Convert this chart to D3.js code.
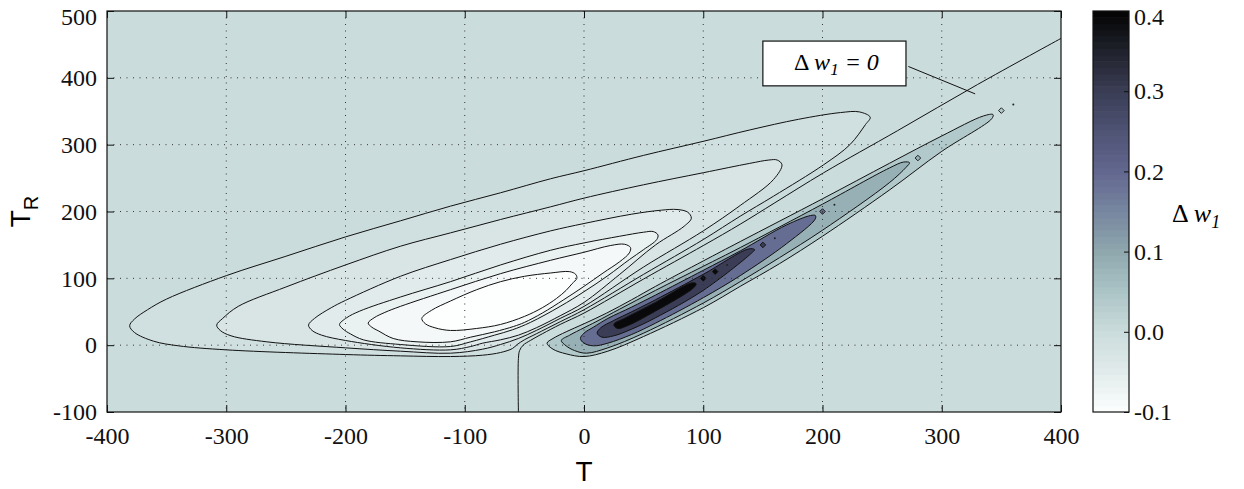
<!DOCTYPE html>
<html>
<head>
<meta charset="utf-8">
<script src="https://cdn.jsdelivr.net/npm/d3@7"></script>
<style>
body { margin: 0; background: #fff; }
</style>
</head>
<body>
<script>
// ticks
const xTicks = [-400, -300, -200, -100, 0, 100, 200, 300, 400];
const yTicks = [-100, 0, 100, 200, 300, 400, 500];
const cbTicks = [-0.1, 0, 0.1, 0.2, 0.3, 0.4];

// colour map of the colorbar (value -> colour)
const cmapValues = [-0.1, -0.05, 0, 0.05, 0.1, 0.15, 0.2, 0.25, 0.3, 0.35, 0.4];
const cmapColors = ["#fdfefe", "#e2ebeb", "#cbdcdc", "#abc4c6", "#8fa8ae", "#7786a0",
                    "#62678f", "#4f5374", "#3a3d55", "#20222c", "#030303"];

// contour levels of dw1, and their outlines as [T, T_R] points
const negLevels = [-0.01, -0.03, -0.05, -0.065, -0.085, -0.1];
const posLevels = [0.04, 0.085, 0.19, 0.3, 0.39];

const negA = [[-377,19],[-381,29],[-377,39],[-366,53],[-350,69],[-300,104],[-250,133],[-200,162],
  [-154,186],[-112,208],[-70,228],[-28,249],[0,261],[50,284],[100,305],[139,322],[180,338],
  [215,348],[231,349],[240,341],[236,330],[223,300],[201,270],[159,223],[131,193],[100,158],
  [50,106],[0,53],[-20,35],[-40,17],[-50,8],[-56,1],[-60,-5],[-70,-11],[-85,-15],[-112,-17],
  [-154,-16],[-200,-14],[-300,-7],[-340,-1],[-361,6]];
const negB = [[-305,22],[-308,30],[-303,40],[-290,58],[-250,87],[-200,120],[-154,148],[-112,168],
  [-70,188],[-28,207],[0,220],[50,240],[100,258],[139,272],[155,277],[162,277],[166,270],
  [159,248],[131,209],[100,171],[50,117],[0,58],[-20,40],[-40,22],[-55,10],[-70,1],[-85,-6],
  [-112,-12],[-154,-9],[-200,-4],[-266,5],[-296,14]];
const negC = [[-228,22],[-231,30],[-226,40],[-212,56],[-200,67],[-154,103],[-112,128],[-70,151],
  [-28,171],[0,182],[40,196],[65,202],[78,203],[87,199],[90,190],[84,178],[60,150],[30,106],
  [0,64],[-20,44],[-40,26],[-55,15],[-70,8],[-85,3],[-95,-2],[-112,-7],[-154,-4],[-200,7],
  [-220,15]];
const negD = [[-202,24],[-205,31],[-199,41],[-188,51],[-154,72],[-112,95],[-70,120],[-28,142],
  [0,153],[30,163],[50,169],[58,170],[62,165],[61,158],[50,143],[38,128],[20,104],[0,80],
  [-20,58],[-45,34],[-60,23],[-75,15],[-95,5],[-112,-2],[-154,1],[-185,8],[-196,17]];
const negE = [[-178,27],[-181,33],[-176,41],[-167,49],[-154,58],[-112,83],[-70,107],[-28,127],
  [0,139],[22,149],[34,151],[39,146],[38,138],[30,125],[16,108],[0,88],[-17,68],[-35,48],
  [-50,34],[-59,28],[-75,20],[-95,12],[-112,5],[-140,5],[-160,10],[-172,21]];
const negF = [[-136,40],[-128,52],[-112,66],[-90,83],[-70,95],[-50,103],[-28,108],[-12,110],
  [-7,106],[-6,100],[-10,92],[-15,82],[-23,70],[-35,56],[-50,43],[-70,31],[-90,25],[-112,22],
  [-125,26],[-133,32]];

const posP1 = [[-31,3],[-26,10],[-15,20],[0,32],[19,48],[40,68],[60,88],[100,126],[131,155],
  [200,219],[256,272],[300,313],[335,343],[343,345],[342,339],[300,290],[256,232],[200,163],
  [164,122],[131,88],[100,56],[50,13],[20,-9],[0,-17],[-15,-13],[-26,-6]];
const posP2 = [[-19,7],[-12,15],[0,26],[10,35],[30,54],[60,82],[100,118],[131,146],[200,211],
  [256,265],[268,274],[273,273],[270,266],[256,243],[200,172],[164,131],[131,95],[100,63],
  [50,18],[20,-4],[2,-12],[-8,-8],[-15,-1]];
const posP3 = [[-3,10],[0,18],[8,27],[20,40],[40,57],[60,75],[100,112],[131,141],[170,180],
  [190,194],[194,194],[194,189],[170,152],[131,104],[100,71],[60,33],[40,16],[20,3],[8,-1],[0,3]];
const posP4 = [[11,18],[14,26],[25,37],[40,50],[60,68],[100,106],[138,144],[143,143],[140,137],
  [100,82],[60,41],[40,24],[25,14],[15,12]];
const posP5 = [[25,31],[35,41],[60,64],[90,93],[94,92],[92,86],[60,51],[35,28],[28,25]];

// little islands along the ridge: [T, T_R, level]
const islands = [[100,100,0.39],[110,110,0.39],[150,150,0.3],[200,200,0.19],
  [280,280,0.085],[350,351,0.04]];
const specks = [[120,120],[160,160],[210,210],[360,360]];

// the dw1 = 0 line
const zeroLine = [[-55,-100],[-55,-20],[-54,-8],[-51,0],[-45,7],[-35,17],[-20,31],[0,48],
  [50,99],[100,149],[131,181],[160,213],[201,258],[263,321],[330,390],[400,459]];

const W = 1244, H = 489;
const pL = 107, pR = 1061, pT = 11, pB = 412;

const svg = d3.select("body").append("svg")
  .attr("width", W)
  .attr("height", H)

const x = d3.scaleLinear().domain([-400, 400]).range([pL, pR]);
const y = d3.scaleLinear().domain([-100, 500]).range([pB, pT]);
const cmap = d3.scaleLinear().domain(cmapValues).range(cmapColors);

svg.append("clipPath").attr("id", "plotclip")
  .append("rect").attr("x", pL).attr("y", pT)
  .attr("width", pR - pL).attr("height", pB - pT);

const plot = svg.append("g").attr("clip-path", "url(#plotclip)");

plot.append("rect")
  .attr("x", pL).attr("y", pT)
  .attr("width", pR - pL).attr("height", pB - pT)
  .style("fill", cmap(0));

const outline = d3.line()
  .x(d => x(d[0])).y(d => y(d[1]))
  .curve(d3.curveCatmullRomClosed.alpha(0.5));

const negContours = [negA, negB, negC, negD, negE, negF];
const posContours = [posP1, posP2, posP3, posP4, posP5];

negContours.forEach((c, i) => {
  plot.append("path")
    .attr("d", outline(c))
    .style("fill", cmap(negLevels[i]))
    .style("stroke", "#111")
    .style("stroke-width", 1);
});

posContours.forEach((c, i) => {
  plot.append("path")
    .attr("d", outline(c))
    .style("fill", cmap(posLevels[i]))
    .style("stroke", "#111")
    .style("stroke-width", 1);
});

// islands
plot.selectAll(".isl").data(islands).enter().append("path")
  .attr("transform", d => `translate(${x(d[0])},${y(d[1])})`)
  .attr("d", d3.symbol().type(d3.symbolDiamond2).size(20))
  .style("fill", d => cmap(d[2]))
  .style("stroke", "#111")
  .style("stroke-width", 0.9);

plot.selectAll(".speck").data(specks).enter().append("circle")
  .attr("cx", d => x(d[0])).attr("cy", d => y(d[1]))
  .attr("r", 1)
  .style("fill", "#222");

// zero contour
plot.append("path")
  .attr("d", d3.line().x(d => x(d[0])).y(d => y(d[1])).curve(d3.curveCatmullRom.alpha(0.5))(zeroLine))
  .style("fill", "none")
  .style("stroke", "#111")
  .style("stroke-width", 1);

// dotted grid
plot.selectAll(".gx").data(xTicks.slice(1, -1)).enter().append("line")
  .attr("x1", d => x(d)).attr("x2", d => x(d))
  .attr("y1", pT).attr("y2", pB)
  .style("stroke", "#333").style("stroke-width", 1)
  .style("stroke-dasharray", "1,5.5");
plot.selectAll(".gy").data(yTicks.slice(1, -1)).enter().append("line")
  .attr("x1", pL).attr("x2", pR)
  .attr("y1", d => y(d)).attr("y2", d => y(d))
  .style("stroke", "#333").style("stroke-width", 1)
  .style("stroke-dasharray", "1,5.5");

// axes, ticks pointing inwards
const serif = "'Liberation Serif', 'Times New Roman', serif";
const sans = "'Liberation Sans', Arial, sans-serif";

svg.append("g")
  .attr("transform", `translate(0,${pB})`)
  .call(d3.axisBottom(x).tickValues(xTicks).tickSize(-7).tickPadding(15).tickFormat(d => String(d)));
const yAxis = svg.append("g")
  .attr("transform", `translate(${pL},0)`)
  .call(d3.axisLeft(y).tickValues(yTicks).tickSize(-7).tickPadding(10).tickFormat(d => String(d)));
svg.append("g")
  .attr("transform", `translate(0,${pT})`)
  .call(d3.axisTop(x).tickValues(xTicks).tickSize(-7).tickFormat(""));
svg.append("g")
  .attr("transform", `translate(${pR},0)`)
  .call(d3.axisRight(y).tickValues(yTicks).tickSize(-7).tickFormat(""));

svg.selectAll(".domain").remove();
svg.selectAll(".tick line").style("stroke", "#111");
svg.selectAll(".tick text")
  .attr("font-family", serif)
  .attr("font-size", 24)
  .style("fill", "#111");
// keep the top label inside the picture
yAxis.selectAll(".tick text").filter(d => d === 500).attr("dy", "0.55em");

svg.append("rect")
  .attr("x", pL).attr("y", pT)
  .attr("width", pR - pL).attr("height", pB - pT)
  .style("fill", "none").style("stroke", "#111").style("stroke-width", 1.2);

// axis titles
svg.append("text")
  .attr("x", x(0)).attr("y", 481)
  .attr("text-anchor", "middle")
  .attr("font-family", sans).attr("font-size", 28)
  .text("T");

const yl = svg.append("text")
  .attr("transform", `translate(30,${y(200)}) rotate(-90)`)
  .attr("text-anchor", "middle")
  .attr("font-family", sans).attr("font-size", 28);
yl.append("tspan").text("T");
yl.append("tspan").attr("dy", 8).attr("font-size", 20).text("R");

// annotation
const box = { t0: 150, t1: 270, r0: 388, r1: 455 };
svg.append("line")
  .attr("x1", x(272)).attr("y1", y(417))
  .attr("x2", x(328)).attr("y2", y(376))
  .style("stroke", "#111").style("stroke-width", 1);
svg.append("rect")
  .attr("x", x(box.t0)).attr("y", y(box.r1))
  .attr("width", x(box.t1) - x(box.t0)).attr("height", y(box.r0) - y(box.r1))
  .style("fill", "#fff").style("stroke", "#111").style("stroke-width", 1.2);
const at = svg.append("text")
  .attr("x", x((box.t0 + box.t1) / 2) + 2).attr("y", y((box.r0 + box.r1) / 2) + 7)
  .attr("text-anchor", "middle")
  .attr("font-family", serif).attr("font-size", 24);
at.append("tspan").text("\u0394 ");
at.append("tspan").attr("font-style", "italic").text("w");
at.append("tspan").attr("font-style", "italic").attr("font-size", 17).attr("dy", 5).text("1");
at.append("tspan").attr("font-style", "italic").attr("dy", -5).text(" = 0");

// colorbar
const cbLeft = 1093, cbRight = 1129;
const cb = d3.scaleLinear().domain([-0.1, 0.4]).range([pB, pT]);
const steps = d3.range(64).map(i => -0.1 + i * 0.5 / 64);
svg.selectAll(".cbstep").data(steps).enter().append("rect")
  .attr("x", cbLeft)
  .attr("y", d => cb(d + 0.5 / 64))
  .attr("width", cbRight - cbLeft)
  .attr("height", (pB - pT) / 64 + 0.6)
  .style("fill", d => cmap(d + 0.25 / 64));

const cbAxis = svg.append("g")
  .attr("transform", `translate(${cbRight},0)`)
  .call(d3.axisRight(cb).tickValues(cbTicks).tickSize(-5).tickPadding(5).tickFormat(d => d.toFixed(1)));
cbAxis.select(".domain").remove();
cbAxis.selectAll(".tick line").style("stroke", "#111");
cbAxis.selectAll(".tick text")
  .attr("font-family", serif).attr("font-size", 24).style("fill", "#111");
cbAxis.selectAll(".tick text").filter(d => d === 0.4).attr("dy", "0.55em");

svg.append("rect")
  .attr("x", cbLeft).attr("y", pT)
  .attr("width", cbRight - cbLeft).attr("height", pB - pT)
  .style("fill", "none").style("stroke", "#111").style("stroke-width", 1.2);

const cl = svg.append("text")
  .attr("x", 1172).attr("y", 222)
  .attr("font-family", serif).attr("font-size", 26);
cl.append("tspan").text("\u0394 ");
cl.append("tspan").attr("font-style", "italic").text("w");
cl.append("tspan").attr("font-style", "italic").attr("font-size", 18).attr("dy", 6).text("1");
</script>
</body>
</html>
